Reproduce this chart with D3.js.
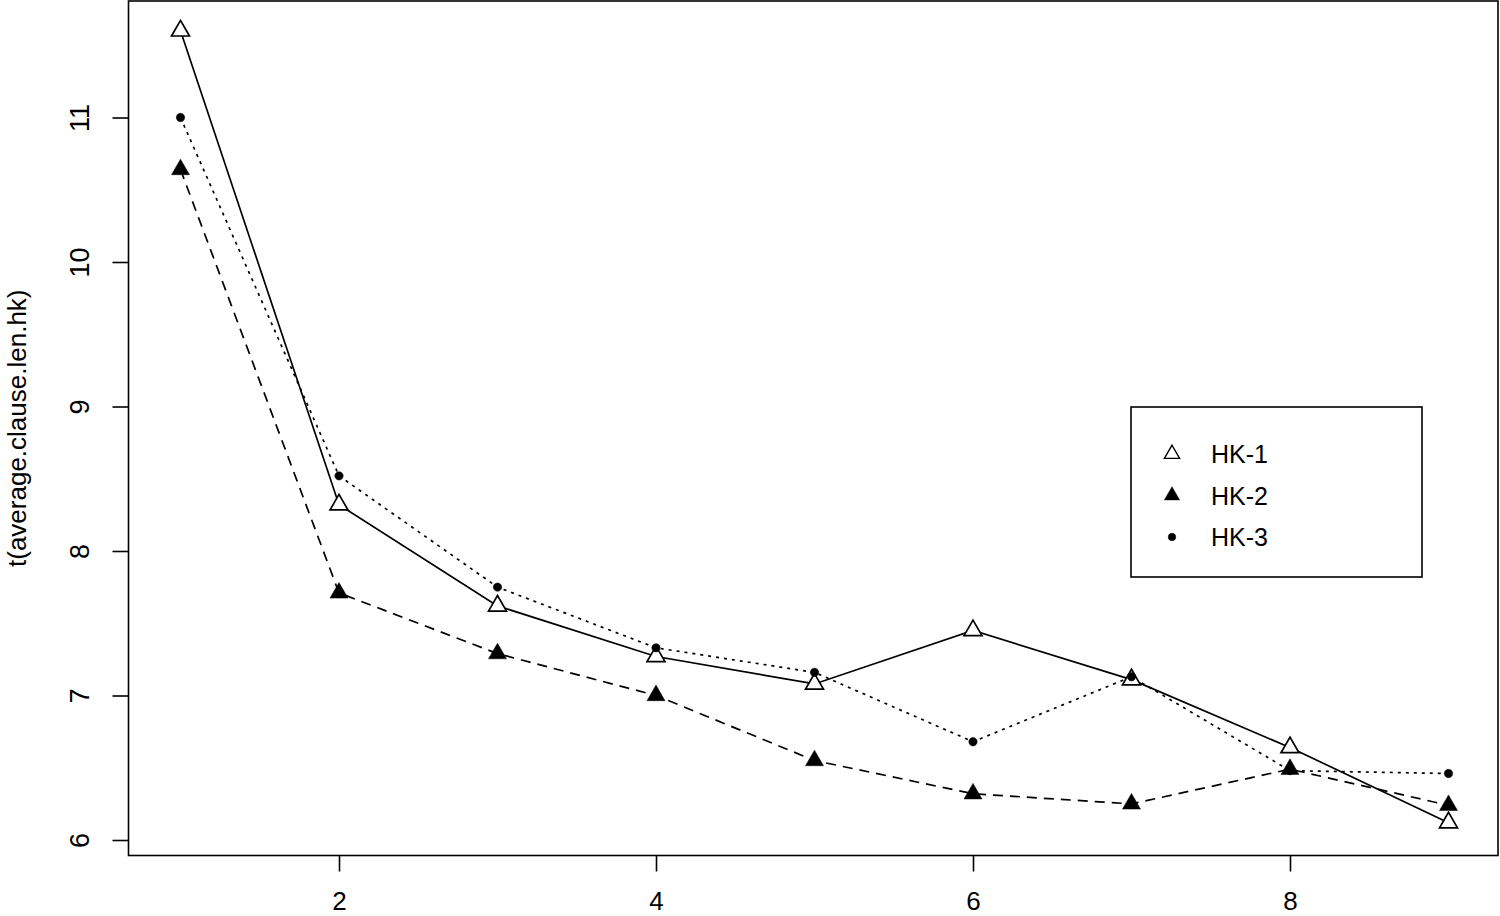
<!DOCTYPE html>
<html>
<head>
<meta charset="utf-8">
<script src="https://cdn.jsdelivr.net/npm/d3@7"></script>
<style>
  html, body { margin: 0; padding: 0; background: #fff; }
  svg { display: block; }
  text { font-family: "Liberation Sans", Arial, sans-serif; fill: #000; }
</style>
</head>
<body>
<svg id="chart" width="1500" height="916"></svg>
<script>
// ---- data ----
const xValues = [1, 2, 3, 4, 5, 6, 7, 8, 9];
const seriesNames = ["HK-1", "HK-2", "HK-3"];
const hk1 = [11.60, 8.32, 7.62, 7.27, 7.08, 7.45, 7.11, 6.64, 6.12];
const hk2 = [10.64, 7.71, 7.29, 7.00, 6.55, 6.32, 6.25, 6.49, 6.24];
const hk3 = [11.00, 8.52, 7.75, 7.33, 7.16, 6.68, 7.13, 6.48, 6.46];
const xTicks = [2, 4, 6, 8];
const yTicks = [6, 7, 8, 9, 10, 11];
const yTitle = "t(average.clause.len.hk)";

// ---- layout ----
const svg = d3.select("#chart");
const box = { left: 128.5, right: 1498, top: 1, bottom: 855.5 };
const x = d3.scaleLinear().domain([1, 9]).range([180.5, 1448.5]);
const y = d3.scaleLinear().domain([6, 11]).range([840, 117.5]);

const styles = [
  { dash: null, symbol: d3.symbolTriangle, fill: "#fff" },
  { dash: "10,7", symbol: d3.symbolTriangle, fill: "#000" },
  { dash: "3,5", symbol: d3.symbolCircle, fill: "#000" }
];
const allSeries = [hk1, hk2, hk3];

// plot box
svg.append("rect")
  .attr("x", box.left).attr("y", box.top)
  .attr("width", box.right - box.left).attr("height", box.bottom - box.top)
  .attr("fill", "none").attr("stroke", "#000").attr("stroke-width", 1.6);

// x axis
const gx = svg.append("g").attr("transform", `translate(0,${box.bottom})`)
  .call(d3.axisBottom(x).tickValues(xTicks).tickSize(16).tickFormat(d3.format("d")));
gx.select(".domain").remove();
gx.selectAll(".tick line").attr("stroke", "#000").attr("stroke-width", 1.6);
gx.selectAll(".tick text")
  .attr("y", 910 - box.bottom).attr("dy", null)
  .style("font-size", "26px").style("font-family", "Liberation Sans, Arial, sans-serif")
  .attr("fill", "#222");

// y axis
const gy = svg.append("g").attr("transform", `translate(${box.left},0)`)
  .call(d3.axisLeft(y).tickValues(yTicks).tickSize(16).tickFormat(d3.format("d")));
gy.select(".domain").remove();
gy.selectAll(".tick line").attr("stroke", "#000").attr("stroke-width", 1.6);
gy.selectAll(".tick text")
  .attr("x", null).attr("dy", null)
  .attr("text-anchor", "middle")
  .attr("transform", "translate(-40,0) rotate(-90)")
  .style("font-size", "27px").style("font-family", "Liberation Sans, Arial, sans-serif")
  .attr("fill", "#222");

// y title
svg.append("text")
  .attr("transform", `translate(26,${(box.top + box.bottom) / 2}) rotate(-90)`)
  .attr("text-anchor", "middle")
  .style("font-size", "26px")
  .attr("fill", "#222")
  .text(yTitle);

// lines
const line = d3.line().x((d, i) => x(xValues[i])).y(d => y(d));
allSeries.forEach((vals, si) => {
  svg.append("path")
    .datum(vals)
    .attr("d", line)
    .attr("fill", "none")
    .attr("stroke", "#000")
    .attr("stroke-width", 1.7)
    .attr("stroke-dasharray", styles[si].dash);
});

// points
allSeries.forEach((vals, si) => {
  const st = styles[si];
  const size = st.symbol === d3.symbolCircle ? 55 : 140;
  svg.append("g").selectAll("path")
    .data(vals)
    .join("path")
    .attr("transform", (d, i) => `translate(${x(xValues[i])},${y(d)})`)
    .attr("d", d3.symbol().type(st.symbol).size(size))
    .attr("fill", st.fill)
    .attr("stroke", "#000")
    .attr("stroke-width", st.fill === "#fff" ? 1.7 : 0.5);
});

// legend
const lg = { x: 1131, y: 407, w: 291, h: 170 };
svg.append("rect")
  .attr("x", lg.x).attr("y", lg.y).attr("width", lg.w).attr("height", lg.h)
  .attr("fill", "#fff").attr("stroke", "#000").attr("stroke-width", 1.6);
seriesNames.forEach((name, si) => {
  const st = styles[si];
  const cy = 454 + si * 41.5;
  const size = st.symbol === d3.symbolCircle ? 45 : 100;
  svg.append("path")
    .attr("transform", `translate(1172,${cy})`)
    .attr("d", d3.symbol().type(st.symbol).size(size))
    .attr("fill", st.fill)
    .attr("stroke", "#000")
    .attr("stroke-width", st.fill === "#fff" ? 1.4 : 0.5);
  svg.append("text")
    .attr("x", 1211).attr("y", cy + 9)
    .style("font-size", "25px")
    .attr("fill", "#222")
    .text(name);
});
</script>
</body>
</html>
